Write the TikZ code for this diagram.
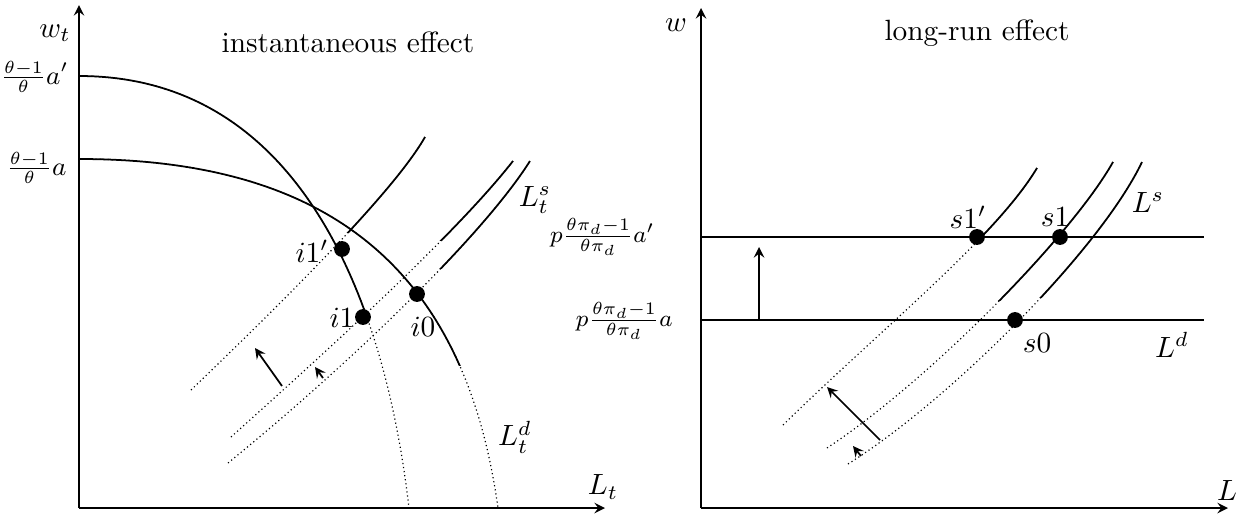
\documentclass[tikz,border=0pt]{standalone}
\usepackage{amsmath}
\usepackage{tikz}
\usetikzlibrary{arrows,calc}
\tikzstyle{arr}   =[->, semithick, >=stealth]
\tikzstyle{axis}  =[->, semithick, >=stealth]
\tikzstyle{curve} =[semithick]
\tikzstyle{faded} =[thin, densely dotted]
\tikzstyle{eqpt}  =[circle, fill=black, inner sep=0pt, minimum size=0.19cm]

\begin{document}
\begin{tikzpicture}[x=0.012cm, y=-0.012cm, every node/.style={font=\normalsize}]
  \useasboundingbox (0,0) rectangle (1243,520);

  % ── left panel: axes ──────────────────────────────────────────────────────
  \coordinate (o1) at (79,508);
  \coordinate (y1) at (79,5);
  \coordinate (x1) at (605,508);
  \draw[axis] (o1) -- (y1);
  \draw[axis] (o1) -- (x1);
  \node (wt) at (55,33) {$w_t$};
  \node (lt) at (603,487) {$L_t$};
  \node (ttl1) at (348,42) {instantaneous effect};
  \node[anchor=east, inner sep=1pt, font=\small] (ap) at (72,77) {$\frac{\theta-1}{\theta}a'$};
  \node[anchor=east, inner sep=1pt, font=\small] (a)  at (70,168) {$\frac{\theta-1}{\theta}a$};

  % ── left panel: demand curves (solid above, faint below) ─────────────────
  \draw[faded] (79,76) .. controls (300,76) and (385,300) .. (409,508);
  \begin{scope}
    \clip (0,0) rectangle (1243,317);
    \draw[curve] (79,76) .. controls (300,76) and (385,300) .. (409,508);
  \end{scope}
  \draw[faded] (79,159) .. controls (330,159) and (465,270) .. (498,508);
  \begin{scope}
    \clip (0,0) rectangle (1243,365);
    \draw[curve] (79,159) .. controls (330,159) and (465,270) .. (498,508);
  \end{scope}

  % ── left panel: supply curves ─────────────────────────────────────────────
  \draw[faded] (191,390) .. controls (290,295) and (395,190) .. (425,137);
  \draw[faded] (231,437) .. controls (330,348) and (455,235) .. (513,161);
  \draw[faded] (228,463) .. controls (340,372) and (480,240) .. (530,161);
  \begin{scope}
    \clip (0,0) rectangle (1243,232);
    \draw[curve] (191,390) .. controls (290,295) and (395,190) .. (425,137);
  \end{scope}
  \begin{scope}
    \clip (0,0) rectangle (1243,240);
    \draw[curve] (231,437) .. controls (330,348) and (455,235) .. (513,161);
  \end{scope}
  \begin{scope}
    \clip (0,0) rectangle (1243,268);
    \draw[curve] (228,463) .. controls (340,372) and (480,240) .. (530,161);
  \end{scope}
  \node (lts) at (535,200) {$L_t^s$};
  \node (ltd) at (515,437) {$L_t^d$};

  % ── left panel: equilibria and shifts ─────────────────────────────────────
  \node[eqpt] (i1p) at (342,249) {};
  \node[eqpt] (i1)  at (363,317) {};
  \node[eqpt] (i0)  at (417,294) {};
  \node (li1p) at (312,251) {$i1'$};
  \node (li1)  at (342,318) {$i1$};
  \node (li0)  at (423,327) {$i0$};
  \coordinate (sh1a) at (282,386);
  \coordinate (sh1b) at (255,348);
  \coordinate (sh2a) at (323,378);
  \coordinate (sh2b) at (315,367);
  \draw[arr] (sh1a) -- (sh1b);
  \draw[arr] (sh2a) -- (sh2b);

  % ── right panel: axes ─────────────────────────────────────────────────────
  \coordinate (o2) at (701,508);
  \coordinate (y2) at (701,8);
  \coordinate (x2) at (1228,508);
  \draw[axis] (o2) -- (y2);
  \draw[axis] (o2) -- (x2);
  \node (w)  at (676,25) {$w$};
  \node (l)  at (1227,490) {$L$};
  \node (ttl2) at (977,33) {long-run effect};
  \node[anchor=east, inner sep=1pt, font=\footnotesize] (pap) at (658,237) {$p\frac{\theta\pi_d-1}{\theta\pi_d}a'$};
  \node[anchor=east, inner sep=1pt, font=\footnotesize] (pa)  at (676,321) {$p\frac{\theta\pi_d-1}{\theta\pi_d}a$};

  % ── right panel: demand lines ─────────────────────────────────────────────
  \coordinate (dh1a) at (701,237);
  \coordinate (dh1b) at (1204,237);
  \coordinate (dh0a) at (701,320);
  \coordinate (dh0b) at (1204,320);
  \draw[thick] (dh1a) -- (dh1b);
  \draw[thick] (dh0a) -- (dh0b);
  \node (ld) at (1172,345) {$L^d$};

  % ── right panel: supply curves ────────────────────────────────────────────
  \draw[faded] (783,425) .. controls (880,330) and (995,238) .. (1037,168);
  \draw[faded] (827,448) .. controls (930,380) and (1072,235) .. (1113,162);
  \draw[faded] (848,464) .. controls (950,400) and (1100,250) .. (1142,162);
  \begin{scope}
    \clip (0,0) rectangle (1243,237);
    \draw[curve] (783,425) .. controls (880,330) and (995,238) .. (1037,168);
  \end{scope}
  \begin{scope}
    \clip (0,0) rectangle (1243,300);
    \draw[curve] (827,448) .. controls (930,380) and (1072,235) .. (1113,162);
  \end{scope}
  \begin{scope}
    \clip (0,0) rectangle (1243,297);
    \draw[curve] (848,464) .. controls (950,400) and (1100,250) .. (1142,162);
  \end{scope}
  \node (ls) at (1148,202) {$L^s$};

  % ── right panel: equilibria and shifts ────────────────────────────────────
  \node[eqpt] (s1p) at (977,237) {};
  \node[eqpt] (s1)  at (1060,237) {};
  \node[eqpt] (s0)  at (1015,320) {};
  \node (ls1p) at (968,217) {$s1'$};
  \node (ls1)  at (1055,217) {$s1$};
  \node (ls0)  at (1037,343) {$s0$};
  \coordinate (sh3a) at (880,440);
  \coordinate (sh3b) at (827,387);
  \coordinate (sh4a) at (861,456);
  \coordinate (sh4b) at (853,446);
  \coordinate (sh5a) at (759,319);
  \coordinate (sh5b) at (759,247);
  \draw[arr] (sh3a) -- (sh3b);
  \draw[arr] (sh4a) -- (sh4b);
  \draw[arr] (sh5a) -- (sh5b);

\end{tikzpicture}
\end{document}
